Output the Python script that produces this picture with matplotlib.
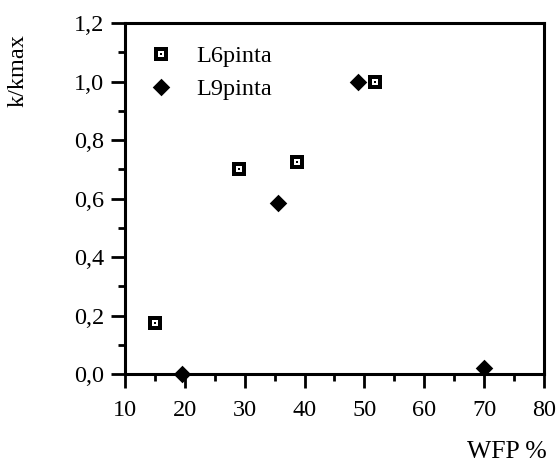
import numpy as np
import matplotlib
matplotlib.use("Agg")
import matplotlib.pyplot as plt
from matplotlib.path import Path
from matplotlib.ticker import MultipleLocator, FuncFormatter

plt.rcParams['font.family'] = ['Liberation Serif', 'DejaVu Serif']

# WFP (%) and relative conductivity k/kmax for each soil layer
l6_wfp = [15.0, 29.0, 38.7, 51.7]
l6_k = [0.175, 0.70, 0.725, 1.0]
l9_wfp = [19.5, 35.5, 48.9, 70.0]
l9_k = [0.0, 0.585, 1.0, 0.02]

series_names = ["L6pinta", "L9pinta"]
x_ticks = [10, 20, 30, 40, 50, 60, 70, 80]
y_ticks = [0.0, 0.2, 0.4, 0.6, 0.8, 1.0, 1.2]

# Square marker with a white window and a central dot
outer = [(-1, -1), (1, -1), (1, 1), (-1, 1), (-1, -1)]
h = 0.45
hole = [(-h, -h), (-h, h), (h, h), (h, -h), (-h, -h)]
d = 0.17
dot = [(-d, -d), (d, -d), (d, d), (-d, d), (-d, -d)]
verts = outer + hole + dot
codes = []
for ring in (outer, hole, dot):
    codes += [Path.MOVETO] + [Path.LINETO] * (len(ring) - 2) + [Path.CLOSEPOLY]
framed_square = Path(verts, codes)

fig = plt.figure(figsize=(5.57, 4.65), dpi=100)
ax = fig.add_axes([0.2244, 0.1957, 0.7522, 0.7548])

ax.plot(l6_wfp, l6_k, linestyle='none', marker=framed_square, markersize=10.5,
        color='black', markeredgewidth=0, label=series_names[0], clip_on=False)
ax.plot(l9_wfp, l9_k, linestyle='none', marker='D', markersize=7.6,
        color='black', markeredgewidth=1.8, label=series_names[1],
        clip_on=False, zorder=3)

ax.set_xlim(10, 80)
ax.set_ylim(0, 1.2)
ax.set_xticks(x_ticks)
ax.set_yticks(y_ticks)
ax.xaxis.set_minor_locator(MultipleLocator(5))
ax.yaxis.set_minor_locator(MultipleLocator(0.1))
ax.yaxis.set_major_formatter(FuncFormatter(lambda v, p: f"{v:.1f}".replace('.', ',')))

for side in ('left', 'bottom', 'right', 'top'):
    ax.spines[side].set_linewidth(2.2)

ax.tick_params(which='major', direction='out', length=10, width=2.0,
               labelsize=17.5, pad=5)
ax.tick_params(which='minor', direction='out', length=5, width=2.0)
ax.tick_params(axis='x', which='major', pad=9)

leg = ax.legend(loc='upper left', bbox_to_anchor=(0.01, 0.985), frameon=False,
                fontsize=17.5, handletextpad=0.85, labelspacing=0.45,
                handlelength=1.2, borderaxespad=0.3)

fig.text(0.033, 0.849, "k/kmax", rotation=90, ha='center', va='center', fontsize=17.5)
fig.text(0.91, 0.027, "WFP %", ha='center', va='center', fontsize=18.5)

fig.savefig("out.png", dpi=100)
